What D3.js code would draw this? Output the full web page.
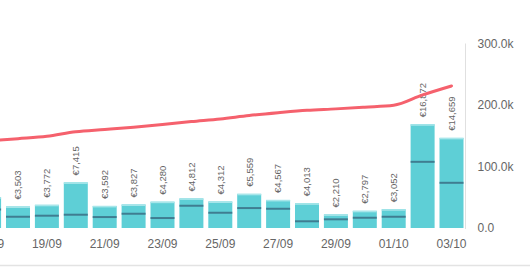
<!DOCTYPE html>
<html>
<head>
<meta charset="utf-8">
<script src="https://cdn.jsdelivr.net/npm/d3@7"></script>
<style>
  html, body { margin: 0; padding: 0; background: #fff; }
  svg { display: block; font-family: "Liberation Sans", Arial, sans-serif; }
  .axis text { fill: #666; font-size: 12px; }
  .axis .domain { display: none; }
  .val { fill: #666; font-size: 9.5px; }
</style>
</head>
<body>
<div id="chart"></div>
<script>
const dates = ["17/09", "18/09", "19/09", "20/09", "21/09", "22/09", "23/09", "24/09", "25/09",
  "26/09", "27/09", "28/09", "29/09", "30/09", "01/10", "02/10", "03/10"];
const revenue = [5000, 3503, 3772, 7415, 3592, 3827, 4280, 4812, 4312,
  5559, 4567, 4013, 2210, 2797, 3052, 16872, 14659];
const cost = [3000, 1830, 2000, 2160, 1780, 2320, 1620, 3620, 2480,
  3240, 3130, 1090, 1410, 1670, 1830, 10760, 7350];
const cumulative = [141800, 145300, 149100, 156500, 160100, 163900, 168200, 173000, 177400,
  182900, 187500, 191500, 193700, 196500, 199500, 216400, 231000];
const xTicks = ["17/09", "19/09", "21/09", "23/09", "25/09", "27/09", "29/09", "01/10", "03/10"];
const rightTicks = [0, 100000, 200000, 300000];

const width = 530, height = 267;
const axisX = 465.5;
const y0 = 228, yTop = 43.5;

const svg = d3.select("#chart").append("svg")
  .attr("width", width)
  .attr("height", height);

const x = d3.scaleBand()
  .domain(dates)
  .range([-22.9, 463.5])
  .paddingInner(0.17)
  .paddingOuter(0);

const yBar = d3.scaleLinear().domain([0, 30000]).range([y0, yTop]);
const yCum = d3.scaleLinear().domain([0, 300000]).range([y0, yTop]);

// bottom separator and right axis line
svg.append("line")
  .attr("x1", 0).attr("x2", width)
  .attr("y1", 265.5).attr("y2", 265.5)
  .attr("stroke", "#e3e3e3").attr("stroke-width", 1.5);

svg.append("line")
  .attr("x1", axisX).attr("x2", axisX)
  .attr("y1", yTop).attr("y2", y0 + 1)
  .attr("stroke", "#e0e0e0");

// bars
svg.append("g").selectAll("rect")
  .data(dates)
  .join("rect")
  .attr("x", (d) => x(d))
  .attr("y", (d, i) => yBar(revenue[i]))
  .attr("width", x.bandwidth())
  .attr("height", (d, i) => y0 - yBar(revenue[i]))
  .attr("fill", "#5ecfd6");

svg.append("g").selectAll("rect")
  .data(dates)
  .join("rect")
  .attr("x", (d) => x(d))
  .attr("y", (d, i) => yBar(revenue[i]))
  .attr("width", x.bandwidth())
  .attr("height", 1.5)
  .attr("fill", "#a8e6ea");

// cost markers inside the bars
svg.append("g").selectAll("line")
  .data(dates)
  .join("line")
  .attr("x1", (d) => x(d))
  .attr("x2", (d) => x(d) + x.bandwidth())
  .attr("y1", (d, i) => yBar(cost[i]))
  .attr("y2", (d, i) => yBar(cost[i]))
  .attr("stroke", "#3f7d91")
  .attr("stroke-width", 2);

// value labels
const fmt = d3.format(",");
svg.append("g").selectAll("text")
  .data(dates)
  .join("text")
  .attr("class", "val")
  .attr("transform", (d, i) =>
    "translate(" + (x(d) + x.bandwidth() / 2) + "," + (yBar(revenue[i]) - 7) + ") rotate(-90)")
  .attr("dy", "0.35em")
  .text((d, i) => "€" + fmt(revenue[i]));

// cumulative line
const line = d3.line()
  .x((d, i) => x(dates[i]) + x.bandwidth() / 2)
  .y((d) => yCum(d))
  .curve(d3.curveMonotoneX);

svg.append("path")
  .attr("d", line(cumulative))
  .attr("fill", "none")
  .attr("stroke", "#f5616d")
  .attr("stroke-width", 3)
  .attr("stroke-linecap", "round");

// axes
svg.append("g")
  .attr("class", "axis")
  .attr("transform", "translate(0," + y0 + ")")
  .call(d3.axisBottom(x).tickValues(xTicks).tickSize(0).tickPadding(11));

svg.append("g")
  .attr("class", "axis")
  .attr("transform", "translate(" + axisX + ",0)")
  .call(d3.axisRight(yCum)
    .tickValues(rightTicks)
    .tickSize(0)
    .tickPadding(12)
    .tickFormat((d) => d === 0 ? "0.0" : (d / 1000).toFixed(1) + "k"));
</script>
</body>
</html>
